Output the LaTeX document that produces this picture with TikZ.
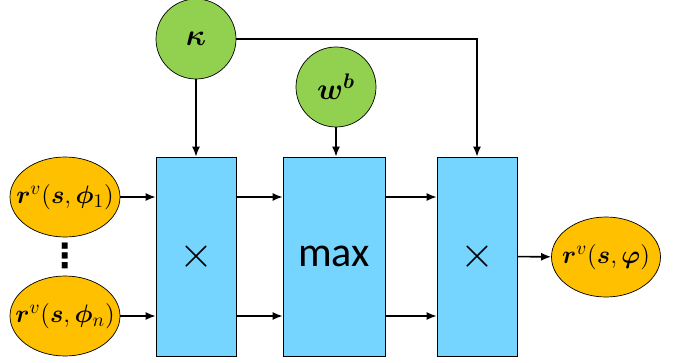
\documentclass[tikz,border=0pt]{standalone}
\usepackage{amsmath}
\usepackage{bm}
\usepackage{fontspec}
\newfontfamily\boxfont{Carlito}
\newfontfamily\dotfont{DejaVu Sans Bold}
\usetikzlibrary{shapes.geometric,arrows.meta}

\definecolor{inorange}{RGB}{255,192,0}
\definecolor{pargreen}{RGB}{146,208,80}
\definecolor{opblue}{RGB}{117,213,255}

\begin{document}
\begin{tikzpicture}[
  state/.style={ellipse,draw,fill=inorange,minimum width=2.2cm,minimum height=1.6cm,inner xsep=-0.3cm,inner ysep=0pt,font=\fontsize{15}{18}\selectfont},
  param/.style={circle,draw,fill=pargreen,minimum size=1.6cm,inner sep=0pt,font=\fontsize{18}{22}\selectfont},
  op/.style={rectangle,draw,fill=opblue,minimum width=1.6cm,minimum height=3.98cm,inner sep=0pt,font=\boxfont\fontsize{24}{28}\selectfont},
  conn/.style={-{Latex[length=2mm,width=1.6mm]},line width=0.9pt}
]
\useasboundingbox (0,0) rectangle (13.66,7.24);

\node[state] at (1.30,3.30) (R1) {$\bm{r}^{v}(\bm{s},\bm{\phi}_1)$};
\node[state] at (1.30,0.92) (Rn) {$\bm{r}^{v}(\bm{s},\bm{\phi}_n)$};
\node[inner sep=0pt,font=\dotfont\fontsize{19}{22}\selectfont] at (1.30,2.12) (dots) {⋮};

\node[op] at (3.92,2.11) (mul1) {$\times$};
\node[op,minimum width=2.04cm] at (6.68,2.11) (max) {max};
\node[op] at (9.54,2.11) (mul2) {$\times$};

\node[param] at (3.92,6.46) (kappa) {$\bm{\kappa}$};
\node[param] at (6.72,5.50) (wb) {$\bm{w^{b}}$};

\node[state,minimum width=2.18cm] at (12.12,2.10) (R) {$\bm{r}^{v}(\bm{s},\bm{\varphi})$};

\draw[conn] (R1) -- (mul1.west |- R1);
\draw[conn] (Rn) -- (mul1.west |- Rn);
\draw[conn] (mul1.east |- R1) -- (max.west |- R1);
\draw[conn] (mul1.east |- Rn) -- (max.west |- Rn);
\draw[conn] (max.east |- R1) -- (mul2.west |- R1);
\draw[conn] (max.east |- Rn) -- (mul2.west |- Rn);
\draw[conn] (mul2) -- (R);

\draw[conn] (kappa) -- (mul1);
\draw[conn] (wb) -- (wb |- max.north);
\draw[conn] (kappa) -| (mul2);

\end{tikzpicture}
\end{document}
